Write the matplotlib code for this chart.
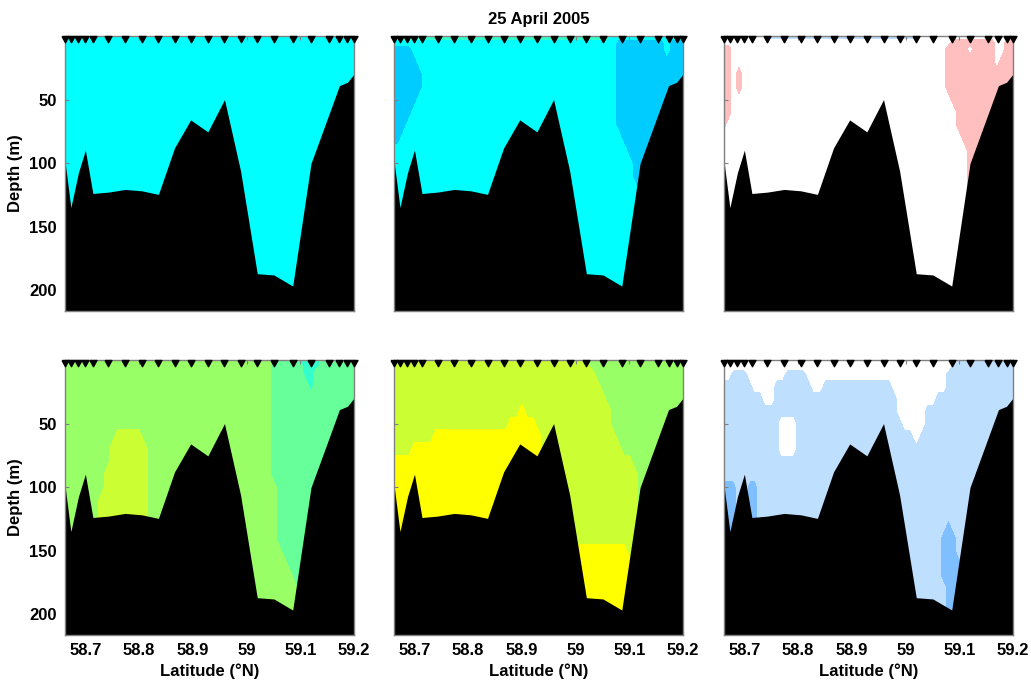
import numpy as np
import matplotlib.pyplot as plt

plt.rcParams['font.family'] = ['Liberation Sans', 'DejaVu Sans']
plt.rcParams['font.weight'] = 'bold'

# CTD stations along the section and bottom depth under each one
station_lat = [58.662, 58.673, 58.687, 58.700, 58.714, 58.743, 58.774, 58.805,
               58.836, 58.866, 58.896, 58.928, 58.959, 58.989, 59.020, 59.051,
               59.086, 59.120, 59.154, 59.173, 59.188, 59.200]
bottom_depth = [98.5, 135, 107.6, 89.8, 123.9, 122.8, 120.7, 121.8, 124.6, 88,
                66, 75.4, 50, 106.3, 187, 188, 196.7, 100.3, 61, 39, 36.4, 30]

# gridded sections: one string per depth level, one digit per 0.01 deg of latitude
# (the digit is the colour class of the contour plot)
grid_depth = [0, 5, 10, 20, 30, 40, 50, 60, 70, 80, 90, 100, 110, 120, 130,
              140, 150, 160, 170, 180, 190, 200, 220]
grid_lat = np.round(np.linspace(58.66, 59.20, 55), 2)

jet_colors = ['#0099FF', '#00CCFF', '#00FFFF', '#33FFCC', '#66FF99', '#99FF66', '#CCFF33', '#FFFF00']
div_colors = ['#80BFFF', '#BFDFFF', '#FFFFFF', '#FFBFBF']

field_a = [
    "2222222222 2222222222 2222222222 2222222222 2222222222 22222",  # 0
    "2222222222 2222222222 2222222222 2222222222 2222222222 22222",  # 5
    "2222222222 2222222222 2222222222 2222222222 2222222222 22222",  # 10
    "2222222222 2222222222 2222222222 2222222222 2222222222 22222",  # 20
    "2222222222 2222222222 2222222222 2222222222 2222222222 22222",  # 30
    "2222222222 2222222222 2222222222 2222222222 2222222222 22222",  # 40
    "2222222222 2222222222 2222222222 2222222222 2222222222 22222",  # 50
    "2222222222 2222222222 2222222222 2222222222 2222222222 22222",  # 60
    "2222222222 2222222222 2222222222 2222222222 2222222222 22222",  # 70
    "2222222222 2222222222 2222222222 2222222222 2222222222 22222",  # 80
    "2222222222 2222222222 2222222222 2222222222 2222222222 22222",  # 90
    "2222222222 2222222222 2222222222 2222222222 2222222222 22222",  # 100
    "2222222222 2222222222 2222222222 2222222222 2222222222 22222",  # 110
    "2222222222 2222222222 2222222222 2222222222 2222222222 22222",  # 120
    "2222222222 2222222222 2222222222 2222222222 2222222222 22222",  # 130
    "2222222222 2222222222 2222222222 2222222222 2222222222 22222",  # 140
    "2222222222 2222222222 2222222222 2222222222 2222222222 22222",  # 150
    "2222222222 2222222222 2222222222 2222222222 2222222222 22222",  # 160
    "2222222222 2222222222 2222222222 2222222222 2222222222 22222",  # 170
    "2222222222 2222222222 2222222222 2222222222 2222222222 22222",  # 180
    "2222222222 2222222222 2222222222 2222222222 2222222222 22222",  # 190
    "2222222222 2222222222 2222222222 2222222222 2222222222 22222",  # 200
    "2222222222 2222222222 2222222222 2222222222 2222222222 22222",  # 220
]

field_b = [
    "2333333333 3333333333 3333333333 3333333333 3222222222 22222",  # 0
    "2222222222 2222222222 2222222222 2222222222 2211111111 12111",  # 5
    "1111222222 2222222222 2222222222 2222222222 2211111111 12111",  # 10
    "1111122222 2222222222 2222222222 2222222222 2211111111 11111",  # 20
    "1111112222 2222222222 2222222222 2222222222 2211111111 11111",  # 30
    "1111112222 2222222222 2222222222 2222222222 2211111111 11111",  # 40
    "1111122222 2222222222 2222222222 2222222222 2211111111 11111",  # 50
    "1111222222 2222222222 2222222222 2222222222 2211111111 11111",  # 60
    "1112222222 2222222222 2222222222 2222222222 2211111111 11111",  # 70
    "1122222222 2222222222 2222222222 2222222222 2221111111 11111",  # 80
    "2222222222 2222222222 2222222222 2222222222 2222111111 11111",  # 90
    "2222222222 2222222222 2222222222 2222222222 2222211111 11111",  # 100
    "2222222222 2222222222 2222222222 2222222222 2222211111 11111",  # 110
    "2222222222 2222222222 2222222222 2222222222 2222221111 11111",  # 120
    "2222222222 2222222222 2222222222 2222222222 2222221111 11111",  # 130
    "2222222222 2222222222 2222222222 2222222222 2222221111 11111",  # 140
    "2222222222 2222222222 2222222222 2222222222 2222221111 11111",  # 150
    "2222222222 2222222222 2222222222 2222222222 2222221111 11111",  # 160
    "2222222222 2222222222 2222222222 2222222222 2222221111 11111",  # 170
    "2222222222 2222222222 2222222222 2222222222 2222221111 11111",  # 180
    "2222222222 2222222222 2222222222 2222222222 2222221111 11111",  # 190
    "2222222222 2222222222 2222222222 2222222222 2222221111 11111",  # 200
    "2222222222 2222222222 2222222222 2222222222 2222221111 11111",  # 220
]

field_c = [
    "2222222211 1111111111 1111111111 1111111222 2222222222 22222",  # 0
    "2222222222 2222222222 2222222222 2222222222 2223333333 32233",  # 5
    "3322222222 2222222222 2222222222 2222222222 2233332333 32233",  # 10
    "3322222222 2222222222 2222222222 2222222222 2233333333 32333",  # 20
    "3323222222 2222222222 2222222222 2222222222 2233333333 33333",  # 30
    "3323222222 2222222222 2222222222 2222222222 2233333333 33333",  # 40
    "3322222222 2222222222 2222222222 2222222222 2223333333 33333",  # 50
    "3322222222 2222222222 2222222222 2222222222 2222333333 33333",  # 60
    "3222222222 2222222222 2222222222 2222222222 2222333333 33333",  # 70
    "2222222222 2222222222 2222222222 2222222222 2222233333 33333",  # 80
    "2222222222 2222222222 2222222222 2222222222 2222223333 33333",  # 90
    "2222222222 2222222222 2222222222 2222222222 2222223333 33333",  # 100
    "2222222222 2222222222 2222222222 2222222222 2222223333 33333",  # 110
    "2222222222 2222222222 2222222222 2222222222 2222223333 33333",  # 120
    "2222222222 2222222222 2222222222 2222222222 2222223333 33333",  # 130
    "2222222222 2222222222 2222222222 2222222222 2222223333 33333",  # 140
    "2222222222 2222222222 2222222222 2222222222 2222223333 33333",  # 150
    "2222222222 2222222222 2222222222 2222222222 2222223333 33333",  # 160
    "2222222222 2222222222 2222222222 2222222222 2222223333 33333",  # 170
    "2222222222 2222222222 2222222222 2222222222 2222223333 33333",  # 180
    "2222222222 2222222222 2222222222 2222222222 2222223333 33333",  # 190
    "2222222222 2222222222 2222222222 2222222222 2222223333 33333",  # 200
    "2222222222 2222222222 2222222222 2222222222 2222223333 33333",  # 220
]

field_d = [
    "5555555555 5555555555 5555555555 5555555554 4444333344 44444",  # 0
    "5555555555 5555555555 5555555555 5555555554 4444433344 44444",  # 5
    "5555555555 5555555555 5555555555 5555555554 4444433444 44444",  # 10
    "5555555555 5555555555 5555555555 5555555554 4444443444 44444",  # 20
    "5555555555 5555555555 5555555555 5555555554 4444444444 44444",  # 30
    "5555555555 5555555555 5555555555 5555555554 4444444444 44444",  # 40
    "5555555555 5555555555 5555555555 5555555554 4444444444 44444",  # 50
    "5555555555 6666655555 5555555555 5555555554 4444444444 44444",  # 60
    "5555555556 6666665555 5555555555 5555555554 4444444444 44444",  # 70
    "5555555556 6666665555 5555555555 5555555554 4444444444 44444",  # 80
    "5555555566 6666665555 5555555555 5555555554 4444444444 44444",  # 90
    "5555555566 6666665555 5555555555 5555555555 4444444444 44444",  # 100
    "5555555666 6666665555 5555555555 5555555555 4444444444 44444",  # 110
    "5555555666 6666665555 5555555555 5555555555 4444444444 44444",  # 120
    "5555555666 6666665555 5555555555 5555555555 4444444444 44444",  # 130
    "5555555666 6666665555 5555555555 5555555555 4444444444 44444",  # 140
    "5555555666 6666665555 5555555555 5555555555 5444444444 44444",  # 150
    "5555555666 6666665555 5555555555 5555555555 5544444444 44444",  # 160
    "5555555666 6666665555 5555555555 5555555555 5554444444 44444",  # 170
    "5555555666 6666665555 5555555555 5555555555 5555444444 44444",  # 180
    "5555555666 6666665555 5555555555 5555555555 5555444444 44444",  # 190
    "5555555666 6666665555 5555555555 5555555555 5555444444 44444",  # 200
    "5555555666 6666665555 5555555555 5555555555 5555444444 44444",  # 220
]

field_e = [
    "6666666666 6666666666 6666666666 6666665555 5555555555 55555",  # 0
    "6666666666 6666666666 6666666666 6666666555 5555555555 55555",  # 5
    "6666666666 6666666666 6666666666 6666666655 5555555555 55555",  # 10
    "6666666666 6666666666 6666666666 6666666665 5555555555 55555",  # 20
    "6666666666 6666666666 6666666666 6666666666 5555555555 55555",  # 30
    "6666666666 6666666666 6666766666 6666666666 6555555555 55555",  # 40
    "6666666666 6666666666 6677777666 6666666666 6555555555 55555",  # 50
    "6666666677 7777777777 7777777766 6666666666 6655555555 55555",  # 60
    "6666777777 7777777777 7777777766 6666666666 6665555555 55555",  # 70
    "7777777777 7777777777 7777777766 6666666666 6666655555 55555",  # 80
    "7777777777 7777777777 7777777766 6666666666 6666665555 55555",  # 90
    "7777777777 7777777777 7777777766 6666666666 6666665555 55555",  # 100
    "7777777777 7777777777 7777777766 6666666666 6666665555 55555",  # 110
    "7777777777 7777777777 7777777766 6666666666 6666665555 55555",  # 120
    "7777777777 7777777777 7777777766 6666666666 6666665555 55555",  # 130
    "7777777777 7777777777 7777777766 6666666666 6666665555 55555",  # 140
    "7777777777 7777777777 7777777766 6666777777 7777665555 55555",  # 150
    "7777777777 7777777777 7777777766 6666777777 7777765555 55555",  # 160
    "7777777777 7777777777 7777777766 6666777777 7777765555 55555",  # 170
    "7777777777 7777777777 7777777766 6666777777 7777765555 55555",  # 180
    "7777777777 7777777777 7777777766 6666777777 7777765555 55555",  # 190
    "7777777777 7777777777 7777777766 6666777777 7777765555 55555",  # 200
    "7777777777 7777777777 7777777766 6666777777 7777765555 55555",  # 220
]

field_f = [
    "2222222222 2222222222 2222222222 2222222222 2221111111 11111",  # 0
    "2222222222 2222222222 2222222222 2222222222 2221111111 11111",  # 5
    "2211122222 2211112222 2222222222 2222222222 2211111111 11111",  # 10
    "1111112222 1111111221 1111111111 1122222222 2211111111 11111",  # 20
    "1111111122 1111111111 1111111111 1112222222 1111111111 11111",  # 30
    "1111111111 1111111111 1111111111 1112222211 1111111111 11111",  # 40
    "1111111111 1222111111 1111111111 1111222211 1111111111 11111",  # 50
    "1111111111 1222111111 1111111111 1111112111 1111111111 11111",  # 60
    "1111111111 1222111111 1111111111 1111111111 1111111111 11111",  # 70
    "1111111111 1111111111 1111111111 1111111111 1111111111 11111",  # 80
    "1111111111 1111111111 1111111111 1111111111 1111111111 11111",  # 90
    "0001100111 1111111111 1111111111 1111111111 1111111111 11111",  # 100
    "0001100111 1111111111 1111111111 1111111111 1111111111 11111",  # 110
    "0001100111 1111111111 1111111111 1111111111 1111111111 11111",  # 120
    "0001100111 1111111111 1111111111 1111111111 1101111111 11111",  # 130
    "0001100111 1111111111 1111111111 1111111111 1000111111 11111",  # 140
    "0001100111 1111111111 1111111111 1111111111 1000111111 11111",  # 150
    "0001100111 1111111111 1111111111 1111111111 1000011111 11111",  # 160
    "0001100111 1111111111 1111111111 1111111111 1000011111 11111",  # 170
    "0001100111 1111111111 1111111111 1111111111 1100011111 11111",  # 180
    "0001100111 1111111111 1111111111 1111111111 1100011111 11111",  # 190
    "0001100111 1111111111 1111111111 1111111111 1100011111 11111",  # 200
    "0001100111 1111111111 1111111111 1111111111 1100011111 11111",  # 220
]

panels = [(field_a, jet_colors), (field_b, jet_colors), (field_c, div_colors),
          (field_d, jet_colors), (field_e, jet_colors), (field_f, div_colors)]

xticks = [58.7, 58.8, 58.9, 59.0, 59.1, 59.2]
xticklabels = ['58.7', '58.8', '58.9', '59', '59.1', '59.2']
yticks = [50, 100, 150, 200]


def parse(rows):
    return np.array([[int(c) for c in r.replace(' ', '')] for r in rows])


fig = plt.figure(figsize=(10.31, 6.86), dpi=100)
lefts = [0.063, 0.3822, 0.7022]
bottoms = [0.5466, 0.0743]
w, h = 0.2803, 0.4009

# station marker: downward triangle hanging from the surface line
tri = [(-1, 0), (1, 0), (0, -1.8), (-1, 0)]
ymax = 1.1 * max(bottom_depth)

for k, (rows, colors) in enumerate(panels):
    r, c = divmod(k, 3)
    ax = fig.add_axes([lefts[c], bottoms[r], w, h])
    z = parse(rows)
    levels = np.arange(-0.5, len(colors))
    ax.contourf(grid_lat, grid_depth, z, levels=levels, colors=colors, zorder=1)
    ax.fill_between(station_lat, bottom_depth, 300, color='black', lw=0, zorder=2)
    ax.plot(station_lat, np.zeros(len(station_lat)), ls='none', marker=tri,
            ms=9, color='black', clip_on=False, zorder=5)

    ax.set_xlim(station_lat[0], station_lat[-1])
    ax.set_ylim(ymax, 0)
    for sp in ax.spines.values():
        sp.set_color('0.5')
        sp.set_linewidth(1)
    ax.set_xticks(xticks)
    ax.set_yticks(yticks)
    ax.tick_params(direction='in', length=3, color='0.5', top=True, right=True,
                   labelsize=12)
    ax.tick_params(axis='x', pad=5.5)
    ax.tick_params(axis='y', pad=6)

    if r == 1:
        ax.set_xticklabels(xticklabels)
        ax.set_xlabel('Latitude (°N)', fontsize=12, fontweight='bold', labelpad=4)
    else:
        ax.set_xticklabels([])
    if c == 0:
        ax.set_ylabel('Depth (m)', fontsize=12, fontweight='bold', labelpad=4)
    else:
        ax.set_yticklabels([])
    if k == 1:
        ax.set_title('25 April 2005', fontsize=12, fontweight='bold', pad=9)

fig.savefig('out.png', dpi=100)
